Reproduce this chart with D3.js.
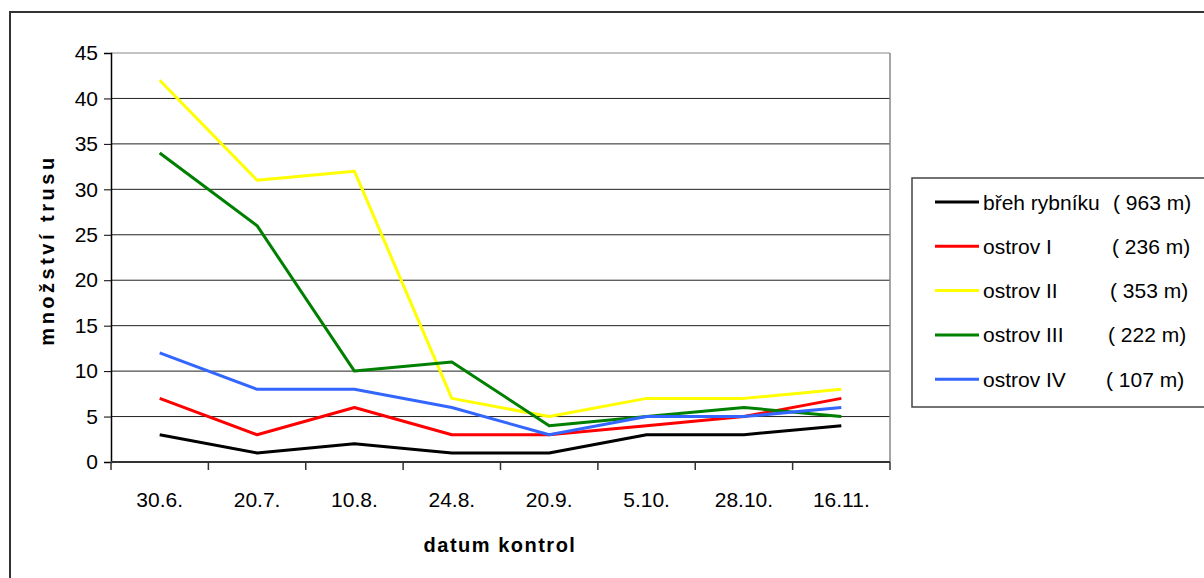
<!DOCTYPE html>
<html><head><meta charset="utf-8">
<script src="https://cdn.jsdelivr.net/npm/d3@7"></script>
<style>body{margin:0;background:#fff}svg{display:block;font-family:"Liberation Sans",Arial,sans-serif}</style>
</head><body><svg id="c" width="1204" height="578"></svg>
<script>
const categories = ["30.6.","20.7.","10.8.","24.8.","20.9.","5.10.","28.10.","16.11."];
const seriesNames = ["břeh rybníku","ostrov I","ostrov II","ostrov III","ostrov IV"];
const seriesDist = ["( 963 m)","( 236 m)","( 353 m)","( 222 m)","( 107 m)"];
const brehRybniku = [3,1,2,1,1,3,3,4];
const ostrovI = [7,3,6,3,3,4,5,7];
const ostrovII = [42,31,32,7,5,7,7,8];
const ostrovIII = [34,26,10,11,4,5,6,5];
const ostrovIV = [12,8,8,6,3,5,5,6];
const yTicks = [0,5,10,15,20,25,30,35,40,45];
const colors = ["#000000","#ff0000","#ffff00","#008000","#3366ff"];
const seriesValues = [brehRybniku, ostrovI, ostrovII, ostrovIII, ostrovIV];

const FF = "Liberation Sans, Arial, sans-serif";
const svg = d3.select("#c");
const L = 111, R = 890, T = 53, B = 462;
const x = d3.scaleBand().domain(categories).range([L, R]);
const y = d3.scaleLinear().domain([0,45]).range([B, T]);

svg.append("rect").attr("x",10).attr("y",12).attr("width",1200).attr("height",580)
  .attr("fill","none").attr("stroke","#333").attr("stroke-width",2);

svg.append("g").selectAll("line").data(yTicks.filter(d=>d>0)).join("line")
  .attr("x1",L).attr("x2",R).attr("y1",d=>y(d)).attr("y2",d=>y(d))
  .attr("stroke",d=>d===45?"#888":"#222").attr("stroke-width",1);
svg.append("line").attr("x1",R).attr("x2",R).attr("y1",T).attr("y2",B).attr("stroke","#888").attr("stroke-width",1.5);

const ya = svg.append("g").attr("transform",`translate(${L},0)`)
  .call(d3.axisLeft(y).tickValues(yTicks).tickSize(7).tickPadding(6).tickFormat(d3.format("d")));
ya.select(".domain").attr("stroke","#000").attr("stroke-width",1.5);
ya.selectAll(".tick line").attr("stroke","#000");
ya.selectAll("text").attr("font-size",21).attr("fill","#000").attr("font-family",FF);

const xa = svg.append("g").attr("transform",`translate(0,${B})`)
  .call(d3.axisBottom(x).tickSize(0).tickPadding(30));
xa.select(".domain").attr("stroke","#333").attr("stroke-width",2).attr("d",`M${L},0H${R}`);
xa.selectAll("text").attr("font-size",21).attr("fill","#000").attr("font-family",FF);
const bounds = categories.map(c=>x(c)).concat([R]);
svg.append("g").selectAll("line").data(bounds).join("line")
  .attr("x1",d=>d).attr("x2",d=>d).attr("y1",B).attr("y2",B+8).attr("stroke","#333").attr("stroke-width",1.5);

const line = d3.line().x((d,i)=>x(categories[i])+x.bandwidth()/2).y(d=>y(d));
svg.append("g").selectAll("path").data(seriesValues).join("path")
  .attr("d",line).attr("fill","none").attr("stroke",(d,i)=>colors[i]).attr("stroke-width",3)
  .attr("stroke-linejoin","round");

svg.append("text").attr("x",500).attr("y",552).attr("text-anchor","middle")
  .attr("font-size",20).attr("font-weight","bold").attr("letter-spacing",1.5).text("datum kontrol");
svg.append("text").attr("transform","translate(54,250) rotate(-90)").attr("text-anchor","middle")
  .attr("font-size",20).attr("font-weight","bold").attr("letter-spacing",3.5).text("množství trusu");

svg.append("rect").attr("x",912).attr("y",178).attr("width",300).attr("height",229)
  .attr("fill","#fff").attr("stroke","#444").attr("stroke-width",1.5);
const distX = [1113,1112,1110,1108,1106];
const lg = svg.append("g").selectAll("g").data(seriesNames).join("g")
  .attr("transform",(d,i)=>`translate(0,${202+i*44.3})`);
lg.append("line").attr("x1",935).attr("x2",979).attr("y1",0).attr("y2",0)
  .attr("stroke",(d,i)=>colors[i]).attr("stroke-width",3);
lg.append("text").attr("x",983).attr("y",7.5).attr("font-size",21).text(d=>d);
lg.append("text").attr("x",(d,i)=>distX[i]).attr("y",7.5).attr("font-size",21).text((d,i)=>seriesDist[i]);
</script></body></html>
